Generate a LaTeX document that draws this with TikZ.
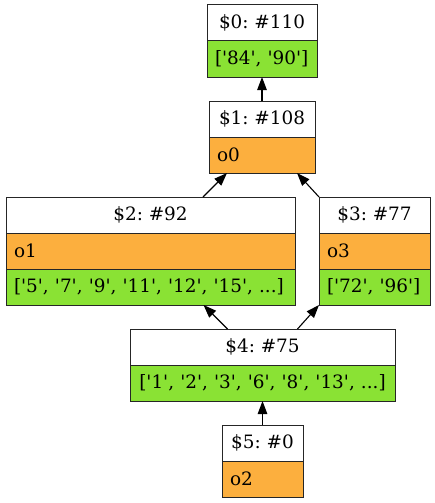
\documentclass[tikz,border=0pt]{standalone}
\usepackage{fontspec}
\setmainfont{DejaVu Serif}[Ligatures=TeXOff]
\usetikzlibrary{arrows.meta}
\definecolor{fgreen}{HTML}{8AE234}
\definecolor{forange}{HTML}{FCAF3E}
\tikzset{
  fld/.style={draw=black!85, line width=1pt, outer sep=0pt, inner ysep=0pt, inner xsep=8pt,
    minimum height=36pt, font=\fontsize{18.4}{22}\selectfont\frenchspacing, anchor=center},
  hdr/.style={fld, fill=white, minimum width=#1, inner xsep=0pt},
  ofld/.style={fld, fill=forange, text width=#1-16pt, align=left},
  gfld/.style={fld, fill=fgreen, text width=#1-16pt, align=left},
  edge/.style={line width=1.1pt, -{Triangle[length=13pt,width=9.5pt]}}
}
\begin{document}
\begin{tikzpicture}[x=1pt,y=-1pt]
\useasboundingbox (0,0) rectangle (435,503);
% node 0
\node[hdr=110pt] (n0h) at (262,23) {\$0: \#110};
\node[gfld=110pt] (n0g) at (262,59) {\mbox{['84', '90']}};
% node 1
\node[hdr=106pt] (n1h) at (262,119) {\$1: \#108};
\node[ofld=106pt] (n1o) at (262,155) {o0};
% node 2
\node[hdr=289pt] (n2h) at (150.5,215) {\$2: \#92};
\node[ofld=289pt] (n2o) at (150.5,251) {o1};
\node[gfld=289pt] (n2g) at (150.5,287) {\mbox{['5', '7', '9', '11', '12', '15', ...]}};
% node 3
\node[hdr=111pt] (n3h) at (374.5,215) {\$3: \#77};
\node[ofld=111pt] (n3o) at (374.5,251) {o3};
\node[gfld=111pt] (n3g) at (374.5,287) {\mbox{['72', '96']}};
% node 4
\node[hdr=265pt] (n4h) at (262.5,347) {\$4: \#75};
\node[gfld=265pt, align=center] (n4g) at (262.5,383) {\mbox{['1', '2', '3', '6', '8', '13', ...]}};
% node 5
\node[hdr=81pt] (n5h) at (262.5,443) {\$5: \#0};
\node[ofld=81pt] (n5o) at (262.5,479) {o2};
% edges
\draw[edge] (n1h.north) -- (n0g.south);
\draw[edge] ([xshift=52.5pt]n2h.north) -- ([xshift=-35pt]n1o.south);
\draw[edge] (n3h.north west) -- ([xshift=35pt]n1o.south);
\draw[edge] ([xshift=-35pt]n4h.north) -- ([xshift=53pt]n2g.south);
\draw[edge] ([xshift=35pt]n4h.north) -- (n3g.south west);
\draw[edge] (n5h.north) -- (n4g.south);
\end{tikzpicture}
\end{document}
